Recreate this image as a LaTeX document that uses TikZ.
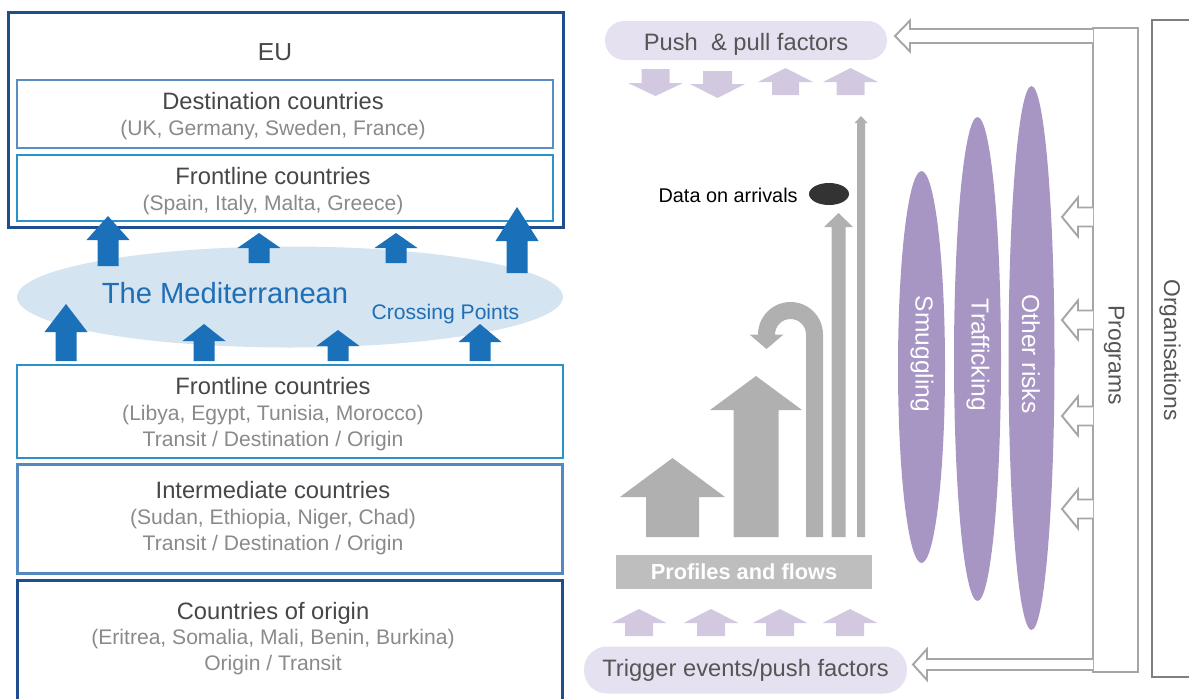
\documentclass[tikz,border=0pt]{standalone}
\usepackage{fontspec}
\setmainfont{Liberation Sans}
\usepackage{tikz}
\usetikzlibrary{shapes.geometric,positioning}
\definecolor{eublue}{HTML}{1F4E8F}
\definecolor{destblue}{HTML}{5A8DC0}
\definecolor{frontblue}{HTML}{2A92CA}
\definecolor{interblue}{HTML}{5389BE}
\definecolor{arrowblue}{HTML}{1A70B9}
\definecolor{medfill}{HTML}{D4E4F0}
\definecolor{medtext}{HTML}{1F6EB6}
\definecolor{titlegray}{HTML}{474747}
\definecolor{subgray}{HTML}{8A8A8A}
\definecolor{lavender}{HTML}{E6E1F0}
\definecolor{lilac}{HTML}{D2C9E1}
\definecolor{riskpurple}{HTML}{A795C3}
\definecolor{flowgray}{HTML}{B0B0B0}
\definecolor{profgray}{HTML}{BEBEBE}
\definecolor{progray}{HTML}{A6A6A6}
\definecolor{orggray}{HTML}{7F7F7F}
\definecolor{pushtext}{HTML}{555555}
\tikzset{
  every picture/.style={line join=miter},
  countrybox/.style={draw, fill=white, minimum width=10.92cm, inner sep=0pt},
  boxtext/.style={align=center, text=subgray, font=\fontsize{12}{14.7}\selectfont, inner sep=0pt},
  pill/.style={fill=lavender, rounded corners=11pt, inner sep=0pt, text=pushtext, font=\fontsize{13.5}{15}\selectfont},
  risk/.style={ellipse, fill=riskpurple, inner sep=0pt, rotate=-90},
  risktext/.style={text=white, rotate=-90, inner sep=0pt, font=\fontsize{14}{16}\selectfont},
  sidetext/.style={text=pushtext, rotate=-90, inner sep=0pt, font=\fontsize{13}{15}\selectfont},
  outline/.style={draw=progray, fill=white, line width=1.1pt},
}
% title line of a country box
\newcommand{\boxtitle}[1]{{\color{titlegray}\fontsize{13.5}{14.7}\selectfont #1}}
% block arrow: centre x, tip y, head base y, tail y, head half width, shaft half width
\newcommand{\blockup}[7][]{%
  \fill[#1] ({#2-#7},#5) -- ({#2-#7},#4) -- ({#2-#6},#4) -- (#2,#3) -- ({#2+#6},#4) -- ({#2+#7},#4) -- ({#2+#7},#5) -- cycle;}
% block arrow pointing left: centre y, tip x, head base x, tail x, head half height, shaft half height
\newcommand{\blockleft}[7][]{%
  \draw[#1] (#5,{#2-#7}) -- (#4,{#2-#7}) -- (#4,{#2-#6}) -- (#3,#2) -- (#4,{#2+#6}) -- (#4,{#2+#7}) -- (#5,{#2+#7});}

\begin{document}
\begin{tikzpicture}[x=0.02cm,y=-0.02cm]
\useasboundingbox (0,0) rectangle (1189,698);
% EU
\node[countrybox, draw=eublue, line width=1.7pt, minimum width=11.12cm, minimum height=4.32cm] (eu) at (286,120) {};
\node[text=titlegray, font=\fontsize{14}{16}\selectfont] (eulabel) at (275,52) {EU};
\node[countrybox, draw=destblue, line width=1.2pt, minimum width=10.72cm, minimum height=1.36cm] (dest) at (285,114) {};
\node[boxtext] (desttext) at (273,116) {\boxtitle{Destination countries}\\(UK, Germany, Sweden, France)};
\node[countrybox, draw=frontblue, line width=1.2pt, minimum width=10.72cm, minimum height=1.32cm] (fronteu) at (285,188) {};
\node[boxtext] (fronteutext) at (273,191) {\boxtitle{Frontline countries}\\(Spain, Italy, Malta, Greece)};
% sea
\node[ellipse, fill=medfill, minimum width=10.92cm, minimum height=2.02cm, inner sep=0pt] (med) at (290,297) {};
\node[text=medtext, font=\fontsize{16.6}{18}\selectfont] (medlabel) at (225,293) {The Mediterranean};
\node[text=medtext, font=\fontsize{12}{14}\selectfont] (crossing) at (445.5,314) {Crossing Points};
\foreach \cx/\ty/\by/\ey in {108/216/240/266, 259/233/248/263, 396/233/248/263, 517/207/241/273,
    66/304/332/361, 204/324/341/361, 338/330/346/361, 480/324/342/361}
  \blockup[arrowblue]{\cx}{\ty}{\by}{\ey}{21.5}{10.5};
% Africa
\node[countrybox, draw=frontblue, line width=1.2pt, minimum height=1.86cm] (frontaf) at (290,411.5) {};
\node[boxtext] (frontaftext) at (273,414) {\boxtitle{Frontline countries}\\(Libya, Egypt, Tunisia, Morocco)\\Transit / Destination / Origin};
\node[countrybox, draw=interblue, line width=1.7pt, minimum height=2.18cm] (inter) at (290,518.5) {};
\node[boxtext] (intertext) at (273,518) {\boxtitle{Intermediate countries}\\(Sudan, Ethiopia, Niger, Chad)\\Transit / Destination / Origin};
\node[countrybox, draw=eublue, line width=1.7pt, minimum height=2.8cm] (origin) at (290,650) {};
\node[boxtext] (origintext) at (273,638.5) {\boxtitle{Countries of origin}\\(Eritrea, Somalia, Mali, Benin, Burkina)\\Origin / Transit};
% factors
\node[pill, minimum width=5.64cm, minimum height=0.78cm, text height=11.4pt, text depth=0pt] (push) at (746,40.5) {Push~~\& pull factors};
\blockup[lilac]{655.5}{96}{83}{69}{27.5}{14}
\blockup[lilac]{717.5}{98}{84}{71}{27.5}{14.5}
\blockup[lilac]{785.5}{68}{82}{95}{27.5}{13.5}
\blockup[lilac]{850.5}{68}{82}{95}{27.5}{14}
\node[pill, rounded corners=13pt, minimum width=6.46cm, minimum height=0.94cm] (trigger) at (745.5,670) {Trigger events/push factors};
\foreach \cx in {639,711,780,850}
  \blockup[lilac]{\cx}{609}{623}{636}{27.5}{14};
\node[fill=profgray, minimum width=5.12cm, minimum height=0.68cm, inner sep=0pt, text=white, font=\bfseries\fontsize{12.4}{14}\selectfont] (profiles) at (744,572) {Profiles and flows};
% flows
\blockup[flowgray]{672.5}{458}{497}{537}{52.5}{26.5}
\blockup[flowgray]{756}{376}{410}{537}{46}{22.5}
\blockup[flowgray]{838.5}{213}{227}{537}{14.5}{7}
\blockup[flowgray]{861}{116}{123}{537}{6.5}{4}
\fill[flowgray] (823,537) -- (823,334.5) arc[start angle=0, end angle=-180, radius=32.5] -- (749.5,334.5) -- (766.5,349)
  -- (783.5,334.5) -- (775,334.5) arc[start angle=180, end angle=360, radius=15.5] -- (806,537) -- cycle;
\node[inner sep=0pt, anchor=east, font=\fontsize{11.3}{13}\selectfont] (datalabel) at (798,195) {Data on arrivals};
\node[ellipse, fill=black!80, minimum width=0.8cm, minimum height=0.44cm, inner sep=0pt] (arrivals) at (829,194) {};
% risks
\node[risk, minimum width=7.84cm, minimum height=0.94cm] (smuggling) at (921.5,367) {};
\node[risktext] (smugglinglabel) at (922,354) {Smuggling};
\node[risk, minimum width=9.68cm, minimum height=0.94cm] (trafficking) at (977.5,359) {};
\node[risktext] (traffickinglabel) at (978,355) {Trafficking};
\node[risk, minimum width=10.88cm, minimum height=0.92cm] (otherrisks) at (1031.5,358) {};
\node[risktext] (otherriskslabel) at (1031,354) {Other risks};
% programs and organisations
\node[draw=progray, line width=1.1pt, minimum width=0.9cm, minimum height=12.88cm, inner sep=0pt] (programs) at (1115.5,350) {};
\node[sidetext] (programslabel) at (1114,355) {Programs};
\node[draw=orggray, line width=1.1pt, minimum width=1.26cm, minimum height=13.14cm, inner sep=0pt] (orgs) at (1183.5,348.5) {};
\node[sidetext] (orgslabel) at (1170,350) {Organisations};
\blockleft[outline]{36}{895}{910}{1093}{15.5}{7}
\blockleft[outline]{664.5}{913}{927}{1093}{15.5}{5.5}
\foreach \cy in {217,320,416,509}
  \blockleft[outline]{\cy}{1062}{1078}{1093}{19.5}{9.5};
\end{tikzpicture}
\end{document}
